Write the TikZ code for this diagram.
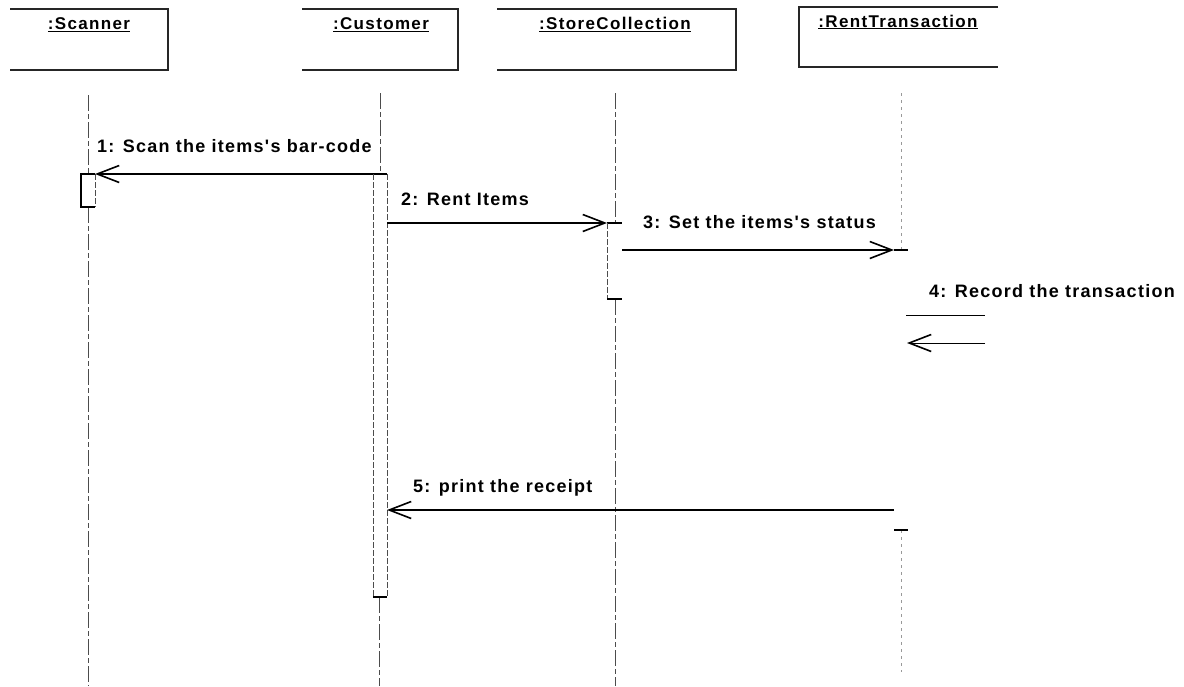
\documentclass[tikz,border=0pt]{standalone}
\usepackage{fontspec}
\setmainfont{Liberation Sans}
\newfontfamily\headfont{Liberation Sans}[LetterSpace=8]
\newfontfamily\msgfont{Liberation Sans}[LetterSpace=7]
\usetikzlibrary{arrows.meta}
\begin{document}
\begin{tikzpicture}[x=1pt,y=-1pt,
  headbox/.style={inner sep=0pt, outer sep=0pt, draw=none},
  outline/.style={line width=1.3pt, draw=black!85},
  headlabel/.style={anchor=base, inner sep=0pt, font=\headfont\bfseries\fontsize{17}{20}\selectfont},
  msglabel/.style={anchor=base west, inner sep=0pt, font=\msgfont\bfseries\fontsize{18}{21}\selectfont},
  lifeline/.style={draw=black!70, line width=0.8pt, dash pattern=on 16pt off 3pt on 5pt off 3pt},
  faintline/.style={draw=black!40, line width=0.8pt, dash pattern=on 3pt off 4pt},
  activation/.style={draw=black!70, line width=0.8pt, dash pattern=on 6pt off 2pt},
  edge/.style={line width=1.2pt, draw=black},
  barb/.style={-{Straight Barb[length=22pt,width=17pt,line width=1.6pt]}},
  message/.style={line width=1.3pt, barb},
  selfline/.style={line width=1pt}
]
\useasboundingbox (0,0) rectangle (1184,686);

% object heads
\node[headbox, minimum width=158pt, minimum height=61pt] (scanner) at (89,39.5) {};
\node[headbox, minimum width=156pt, minimum height=61pt] (customer) at (380,39.5) {};
\node[headbox, minimum width=239pt, minimum height=61pt] (store) at (616.5,39.5) {};
\node[headbox, minimum width=199pt, minimum height=60pt] (rent) at (898.5,37) {};
\draw[outline] (scanner.north west) -- (scanner.north east) -- (scanner.south east) -- (scanner.south west);
\draw[outline] (customer.north west) -- (customer.north east) -- (customer.south east) -- (customer.south west);
\draw[outline] (store.north west) -- (store.north east) -- (store.south east) -- (store.south west);
\draw[outline] (rent.north east) -- (rent.north west) -- (rent.south west) -- (rent.south east);

\node[headlabel] (scannerlbl) at (89,29.5) {\underline{:Scanner}};
\node[headlabel] (customerlbl) at (381,29.5) {\underline{:Customer}};
\node[headlabel] (storelbl) at (615,29.5) {\underline{:StoreCollection}};
\node[headlabel] (rentlbl) at (898,27) {\underline{:RentTransaction}};

% lifeline and activation corners
\coordinate (s-top) at (88,95);   \coordinate (s-bot) at (88,686);
\coordinate (sa-nw) at (81,174);  \coordinate (sa-ne) at (95,174);
\coordinate (sa-sw) at (81,207);  \coordinate (sa-se) at (95,207);
\coordinate (s-mid) at (88,207);  \coordinate (s-up) at (88,174);

\coordinate (c-top) at (380,93);  \coordinate (c-bot) at (379,686);
\coordinate (ca-nw) at (373,174); \coordinate (ca-ne) at (387,174);
\coordinate (ca-sw) at (373,597); \coordinate (ca-se) at (387,597);
\coordinate (c-up) at (380,174);  \coordinate (c-mid) at (379,597);

\coordinate (k-top) at (615,93);  \coordinate (k-bot) at (615,686);
\coordinate (ka-nw) at (607,223); \coordinate (ka-ne) at (622,223);
\coordinate (ka-sw) at (607,299); \coordinate (ka-se) at (622,299);
\coordinate (k-up) at (615,223);  \coordinate (k-mid) at (615,299);

\coordinate (r-top) at (901,93);  \coordinate (r-bot) at (901,672);
\coordinate (ra-nw) at (894,250); \coordinate (ra-ne) at (908,250);
\coordinate (ra-sw) at (894,530); \coordinate (ra-se) at (908,530);
\coordinate (r-up) at (901,250);  \coordinate (r-mid) at (901,530);

% lifelines
\draw[lifeline] (s-top) -- (s-up);
\draw[lifeline] (s-mid) -- (s-bot);
\draw[lifeline] (c-top) -- (c-up);
\draw[lifeline] (c-mid) -- (c-bot);
\draw[lifeline] (k-top) -- (k-up);
\draw[lifeline] (k-mid) -- (k-bot);
\draw[faintline] (r-top) -- (r-up);
\draw[faintline] (r-mid) -- (r-bot);

% activations
\draw[edge] (sa-ne) -- (sa-nw) -- (sa-sw) -- (sa-se);
\draw[activation] (sa-ne) -- (sa-se);
\draw[edge] (ca-nw) -- (ca-ne);
\draw[activation] (ca-nw) -- (ca-sw);
\draw[activation] (ca-ne) -- (ca-se);
\draw[edge] (ca-sw) -- (ca-se);
\draw[edge] (ka-nw) -- (ka-ne);
\draw[activation] (ka-nw) -- (ka-sw);
\draw[edge] (ka-sw) -- (ka-se);
\draw[edge] (ra-nw) -- (ra-ne);
\draw[edge] (ra-sw) -- (ra-se);

% messages
\draw[message] (ca-nw) -- (sa-ne);
\draw[message] (387,223) -- (ka-nw);
\draw[message] (ka-ne |- ra-nw) -- (ra-nw);
\coordinate (r4a) at (906,315); \coordinate (r4b) at (985,315);
\coordinate (r4c) at (985,343); \coordinate (r4d) at (907,343);
\draw[selfline] (r4a) -- (r4b);
\draw[selfline, barb] (r4c) -- (r4d);
\draw[message] (ra-nw |- 0,510) -- (ca-ne |- 0,510);

% message labels
\node[msglabel] (m1) at (97,152) {1: Scan the items's bar-code};
\node[msglabel] (m2) at (401,205) {2: Rent Items};
\node[msglabel] (m3) at (643,228) {3: Set the items's status};
\node[msglabel] (m4) at (929,297) {4: Record the transaction};
\node[msglabel] (m5) at (413,492) {5: print the receipt};
\end{tikzpicture}
\end{document}
